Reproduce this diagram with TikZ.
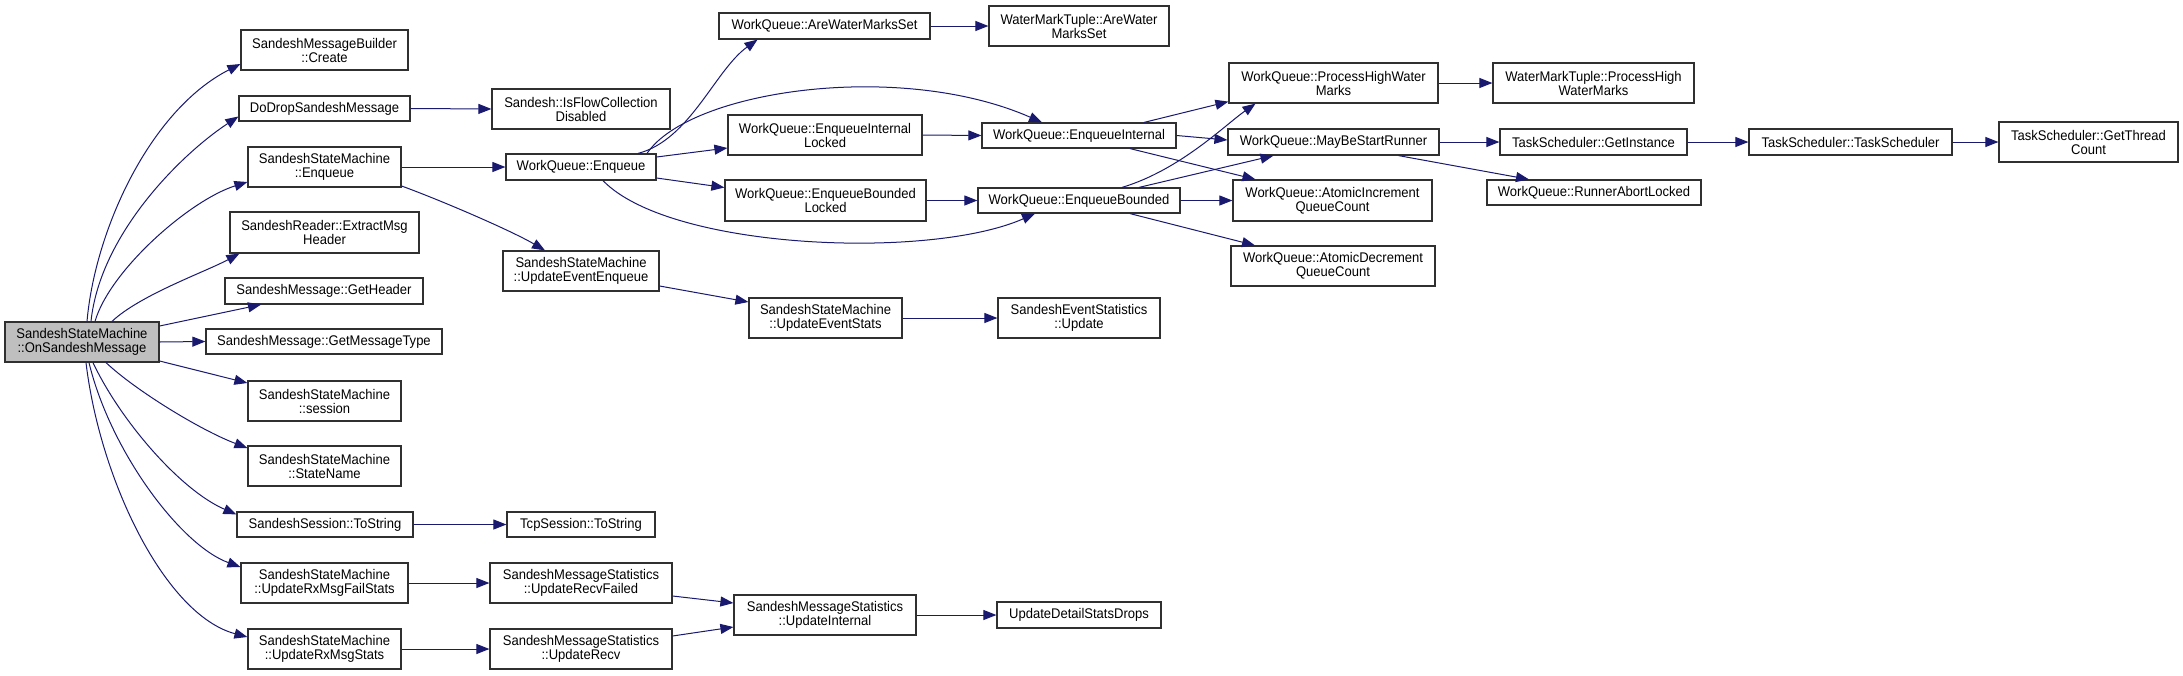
\documentclass[tikz,border=0pt]{standalone}
\usepackage{fontspec}
\setmainfont{Liberation Sans}[FakeStretch=0.93]
\usetikzlibrary{arrows.meta}
\definecolor{edgecol}{RGB}{25,25,112}
\definecolor{boxline}{RGB}{48,48,48}
\definecolor{grayfill}{RGB}{191,191,191}
\newcommand\fnbox[6][]{\node[fn,#1,minimum width={(#4-#2)*1pt},minimum height={(#5-#3)*1pt}] (#6) at ({(#2+#4)/2},{(#3+#5)/2})}
\begin{document}
\begin{tikzpicture}[x=1pt,y=-1pt,
  fn/.style={draw=boxline, line width=1.2pt, fill=white, inner sep=0pt, align=center,
    font=\fontsize{14}{14}\selectfont},
  e/.style={draw=edgecol, line width=1pt, -{Triangle[length=13pt,width=10pt]}}]
\useasboundingbox (0,0) rectangle (2183,675);
% column 1
\fnbox[fill=grayfill]{5}{322}{159}{362}{n0} {SandeshStateMachine\\::OnSandeshMessage};
% column 2
\fnbox{241}{30}{408}{70}{create} {SandeshMessageBuilder\\::Create};
\fnbox{239}{96}{410}{121}{drop} {DoDropSandeshMessage};
\fnbox{248}{147}{401}{187}{sse} {SandeshStateMachine\\::Enqueue};
\fnbox{230}{212}{419}{253}{emh} {SandeshReader::ExtractMsg\\Header};
\fnbox{225}{278}{423}{304}{gh} {SandeshMessage::GetHeader};
\fnbox{206}{329}{442}{354}{gmt} {SandeshMessage::GetMessageType};
\fnbox{248}{381}{401}{421}{ses} {SandeshStateMachine\\::session};
\fnbox{248}{446}{401}{486}{sn} {SandeshStateMachine\\::StateName};
\fnbox{237}{512}{413}{537}{sts} {SandeshSession::ToString};
\fnbox{241}{563}{408}{603}{frx} {SandeshStateMachine\\::UpdateRxMsgFailStats};
\fnbox{248}{629}{401}{669}{rx} {SandeshStateMachine\\::UpdateRxMsgStats};
% column 3
\fnbox{492}{89}{670}{129}{ifc} {Sandesh::IsFlowCollection\\Disabled};
\fnbox{506}{154}{656}{180}{wqe} {WorkQueue::Enqueue};
\fnbox{503}{251}{659}{291}{uee} {SandeshStateMachine\\::UpdateEventEnqueue};
\fnbox{507}{512}{655}{537}{tcp} {TcpSession::ToString};
\fnbox{490}{563}{672}{603}{urf} {SandeshMessageStatistics\\::UpdateRecvFailed};
\fnbox{490}{629}{672}{669}{ur} {SandeshMessageStatistics\\::UpdateRecv};
% column 4
\fnbox{719}{13}{930}{39}{awm} {WorkQueue::AreWaterMarksSet};
\fnbox{728}{115}{922}{155}{eil} {WorkQueue::EnqueueInternal\\Locked};
\fnbox{725}{180}{926}{221}{ebl} {WorkQueue::EnqueueBounded\\Locked};
\fnbox{749}{298}{902}{338}{ues} {SandeshStateMachine\\::UpdateEventStats};
\fnbox{734}{595}{916}{635}{ui} {SandeshMessageStatistics\\::UpdateInternal};
% column 5
\fnbox{989}{6}{1169}{46}{wmt} {WaterMarkTuple::AreWater\\MarksSet};
\fnbox{982}{123}{1176}{148}{ei} {WorkQueue::EnqueueInternal};
\fnbox{978}{188}{1180}{213}{eb} {WorkQueue::EnqueueBounded};
\fnbox{998}{298}{1160}{338}{sesu} {SandeshEventStatistics\\::Update};
\fnbox{997}{602}{1161}{628}{uds} {UpdateDetailStatsDrops};
% column 6
\fnbox{1229}{63}{1438}{103}{phw} {WorkQueue::ProcessHighWater\\Marks};
\fnbox{1228}{129}{1439}{155}{msr} {WorkQueue::MayBeStartRunner};
\fnbox{1233}{180}{1432}{221}{aic} {WorkQueue::AtomicIncrement\\QueueCount};
\fnbox{1231}{246}{1435}{286}{adc} {WorkQueue::AtomicDecrement\\QueueCount};
% column 7
\fnbox{1493}{63}{1694}{103}{wph} {WaterMarkTuple::ProcessHigh\\WaterMarks};
\fnbox{1500}{129}{1687}{155}{gi} {TaskScheduler::GetInstance};
\fnbox{1487}{180}{1701}{205}{ral} {WorkQueue::RunnerAbortLocked};
% column 8, 9
\fnbox{1749}{129}{1952}{155}{ts} {TaskScheduler::TaskScheduler};
\fnbox{1999}{122}{2178}{162}{gtc} {TaskScheduler::GetThread\\Count};

% edges from OnSandeshMessage
\draw[e] ([xshift=5pt]n0.north) .. controls (95,230) and (150,110) .. ([yshift=-14pt]create.west);
\draw[e] ([xshift=9pt]n0.north) .. controls (100,235) and (180,155) .. ([yshift=-8pt]drop.west);
\draw[e] ([xshift=13pt]n0.north) .. controls (110,270) and (190,200) .. ([yshift=-15pt]sse.west);
\draw[e] ([xshift=30pt]n0.north) .. controls (140,295) and (205,272) .. ([xshift=10pt]emh.south west);
\draw[e] ([yshift=16pt]n0.east) -- ([xshift=-63pt]gh.south);
\draw[e] (n0.east) -- (gmt.west);
\draw[e] ([yshift=-19pt]n0.east) -- ([yshift=18pt]ses.west);
\draw[e] ([xshift=24pt]n0.south) .. controls (135,390) and (200,430) .. ([yshift=18pt]sn.west);
\draw[e] ([xshift=11pt]n0.south) .. controls (120,420) and (180,490) .. ([yshift=-3pt]sts.north west);
\draw[e] ([xshift=7pt]n0.south) .. controls (110,450) and (180,545) .. ([yshift=16pt]frx.west);
\draw[e] ([xshift=4pt]n0.south) .. controls (100,480) and (165,615) .. ([yshift=12pt]rx.west);
% second level
\draw[e] (drop.east) -- (ifc.west);
\draw[e] (sse.east) -- (wqe.west);
\draw[e] ([yshift=-19pt]sse.east) .. controls (440,200) and (510,230) .. ([xshift=-36pt]uee.north);
\draw[e] ([yshift=-15pt]uee.east) -- ([yshift=16pt]ues.west);
\draw[e] (ues.east) -- (sesu.west);
\draw[e] (sts.east) -- (tcp.west);
\draw[e] (frx.east) -- (urf.west);
\draw[e] (rx.east) -- (ur.west);
\draw[e] ([yshift=-13pt]urf.east) -- ([yshift=12pt]ui.west);
\draw[e] ([yshift=13pt]ur.east) -- ([yshift=-12pt]ui.west);
\draw[e] (ui.east) -- (uds.west);
% WorkQueue::Enqueue
\draw[e] ([xshift=57pt]wqe.north) .. controls (690,140) and (715,70) .. ([xshift=-67pt]awm.south);
\draw[e] ([xshift=66pt]wqe.north) .. controls (690,90) and (900,60) .. ([xshift=-37pt]ei.north);
\draw[e] ([yshift=10pt]wqe.east) -- ([yshift=-13pt]eil.west);
\draw[e] ([yshift=-11pt]wqe.east) -- ([yshift=13pt]ebl.west);
\draw[e] ([xshift=22pt]wqe.south) .. controls (670,250) and (930,260) .. ([xshift=-44pt]eb.south);
\draw[e] (awm.east) -- (wmt.west);
\draw[e] (eil.east) -- (ei.west);
\draw[e] (ebl.east) -- (eb.west);
% EnqueueInternal / EnqueueBounded
\draw[e] ([xshift=65pt]ei.north) -- ([yshift=2pt]phw.south west);
\draw[e] (ei.east) -- ([yshift=2pt]msr.west);
\draw[e] ([xshift=51pt]ei.south) -- ([xshift=-77pt]aic.north);
\draw[e] ([xshift=43pt]eb.north) .. controls (1180,170) and (1225,125) .. ([xshift=-78pt]phw.south);
\draw[e] ([xshift=60pt]eb.north) -- ([xshift=-60pt]msr.south);
\draw[e] (eb.east) -- (aic.west);
\draw[e] ([xshift=51pt]eb.south) -- ([xshift=-78pt]adc.north);
% right part
\draw[e] (phw.east) -- (wph.west);
\draw[e] (msr.east) -- (gi.west);
\draw[e] ([xshift=65pt]msr.south) -- ([xshift=-65pt]ral.north);
\draw[e] (gi.east) -- (ts.west);
\draw[e] (ts.east) -- (gtc.west);
\end{tikzpicture}
\end{document}
